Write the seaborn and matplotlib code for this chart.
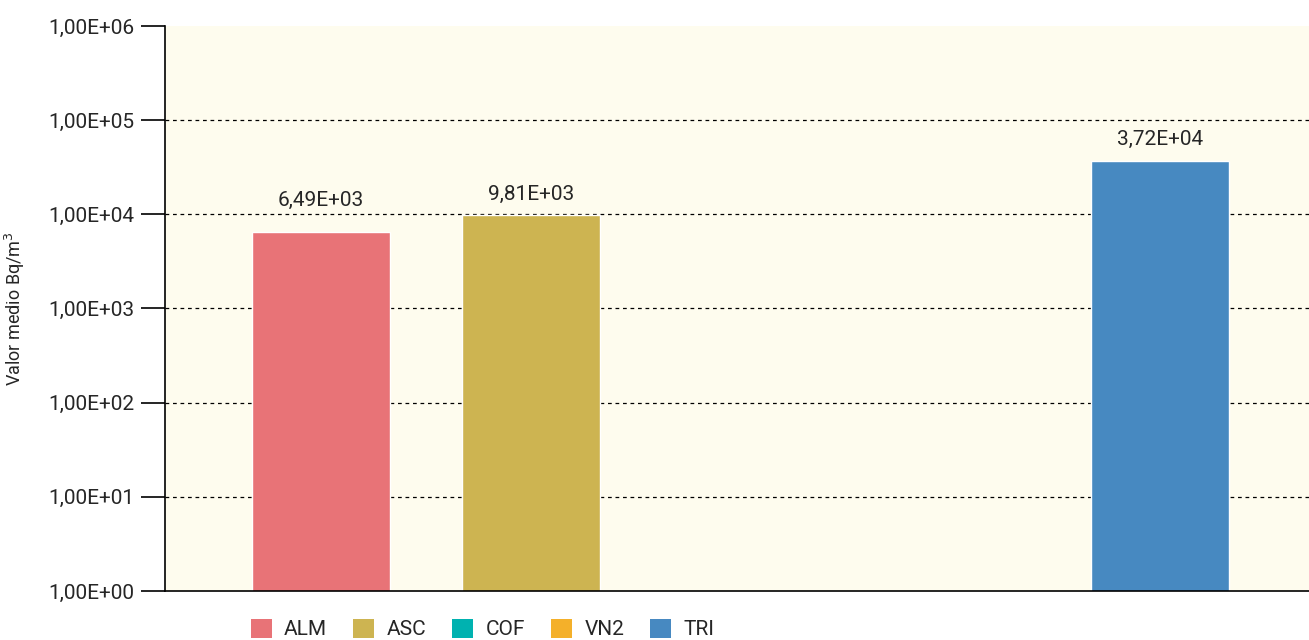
import numpy as np
import pandas as pd
import matplotlib
matplotlib.use("Agg")
import matplotlib.pyplot as plt
import matplotlib.ticker as mticker
from matplotlib.patches import Patch
import seaborn as sns

# data
categories = ["ALM", "ASC", "COF", "VN2", "TRI"]
valores = [6.49e3, 9.81e3, np.nan, np.nan, 3.72e4]
etiquetas = ["6,49E+03", "9,81E+03", "", "", "3,72E+04"]
colores = ["#E87377", "#CDB451", "#00B2B0", "#F4B02A", "#4789C1"]
yticks = [1e0, 1e1, 1e2, 1e3, 1e4, 1e5, 1e6]
ytick_labels = ["1,00E+00", "1,00E+01", "1,00E+02", "1,00E+03",
                "1,00E+04", "1,00E+05", "1,00E+06"]

sns.set_style("white")
plt.rcParams['font.family'] = ['Liberation Sans Narrow', 'Roboto', 'DejaVu Sans']

df = pd.DataFrame({"cat": categories, "valor": valores})

fig = plt.figure(figsize=(13.09, 6.4), dpi=100)
ax = fig.add_axes([0.126, 0.0766, 0.874, 0.8828])
ax.set_facecolor("#FEFCEE")

sns.barplot(data=df, x="cat", y="valor", hue="cat", order=categories,
            hue_order=categories, palette=colores, legend=False,
            width=0.655, saturation=1, ax=ax, log_scale=(False, True))

ax.set_yscale("log")
ax.set_ylim(1, 1e6)
ax.set_xlim(-0.745, 4.71)
ax.yaxis.set_major_locator(mticker.FixedLocator(yticks))
ax.yaxis.set_minor_locator(mticker.NullLocator())
ax.set_yticks(yticks)
ax.set_yticklabels(ytick_labels, fontsize=15)
ax.tick_params(axis="y", length=17, width=1.2, color="black", pad=5, left=True)
ax.tick_params(axis="x", bottom=False, labelbottom=False)
ax.set_xlabel("")
ax.set_ylabel("Valor medio Bq/m$^3$", fontsize=13)
ax.yaxis.set_label_coords(-0.121, 0.5)

for y in yticks[1:-1]:
    ax.axhline(y, color="black", linestyle=(0, (3, 3)), linewidth=0.9, zorder=0.5)

for sp in ["top", "right"]:
    ax.spines[sp].set_visible(False)
for sp in ["left", "bottom"]:
    ax.spines[sp].set_color("black")
    ax.spines[sp].set_linewidth(1.2)

# label gap above each bar (points)
gaps = [19, 11, 0, 0, 11]
for i, (v, t) in enumerate(zip(valores, etiquetas)):
    if not np.isnan(v):
        ax.annotate(t, (i, v), xytext=(0, gaps[i]), textcoords="offset points",
                    ha="center", va="baseline", fontsize=15)

handles = [Patch(facecolor=c, edgecolor="none") for c in colores]
fig.legend(handles, categories, loc="center left", bbox_to_anchor=(0.1915, 0.017),
           ncol=5, frameon=False, fontsize=15, handlelength=1.0, handleheight=1.0,
           columnspacing=1.25, handletextpad=0.6, borderaxespad=0.0, borderpad=0.0)

fig.savefig("out.png", dpi=100)
